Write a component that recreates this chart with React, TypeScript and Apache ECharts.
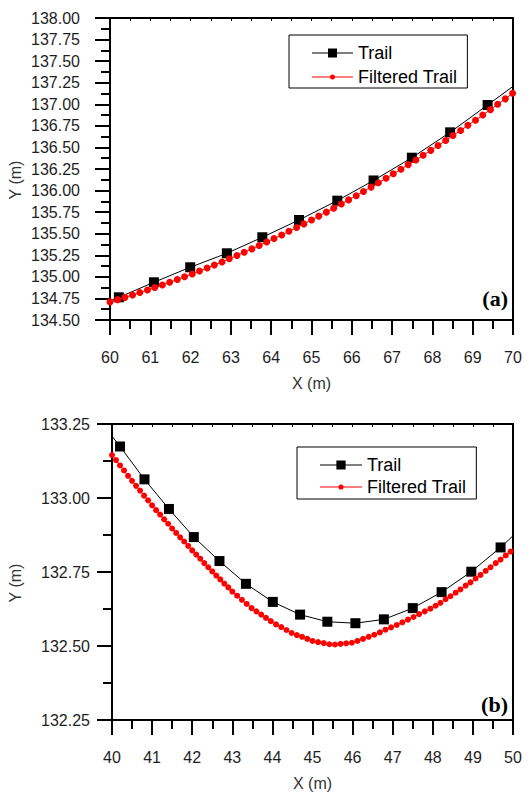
import React, { useEffect, useRef } from 'react';
import * as echarts from 'echarts';

// ---------- Data: panel (a) ----------
const trailAX = [59.33, 60.22, 61.09, 61.99, 62.9, 63.78, 64.69, 65.64, 66.54, 67.49, 68.44, 69.37, 70.3];
const trailAY = [134.59, 134.763, 134.937, 135.111, 135.273, 135.459, 135.659, 135.883, 136.117, 136.381, 136.675, 136.992, 137.31];

const filtAX = [
  60.0, 60.19, 60.37, 60.56, 60.74, 60.93, 61.11, 61.3, 61.48, 61.67, 61.85, 62.04, 62.22, 62.41, 62.59,
  62.78, 62.96, 63.15, 63.33, 63.52, 63.7, 63.89, 64.07, 64.26, 64.44, 64.63, 64.81, 65.0, 65.18, 65.37,
  65.55, 65.74, 65.92, 66.11, 66.29, 66.48, 66.66, 66.85, 67.03, 67.22, 67.4, 67.59, 67.77, 67.96, 68.14,
  68.33, 68.51, 68.7, 68.88, 69.07, 69.25, 69.44, 69.62, 69.81, 69.99,
];
const filtAY = [
  134.71, 134.736, 134.762, 134.79, 134.818, 134.847, 134.876, 134.906, 134.937, 134.969, 135.001, 135.034,
  135.068, 135.102, 135.137, 135.173, 135.21, 135.247, 135.285, 135.324, 135.363, 135.403, 135.444, 135.486,
  135.528, 135.571, 135.614, 135.659, 135.704, 135.75, 135.796, 135.844, 135.892, 135.94, 135.99, 136.04,
  136.09, 136.142, 136.194, 136.247, 136.301, 136.355, 136.41, 136.466, 136.522, 136.58, 136.638, 136.696,
  136.756, 136.816, 136.876, 136.938, 137.0, 137.063, 137.127,
];

// ---------- Data: panel (b) ----------
const trailBX = [39.59, 40.2, 40.81, 41.42, 42.04, 42.68, 43.34, 44.01, 44.69, 45.37, 46.07, 46.78, 47.5, 48.22, 48.96, 49.69, 50.42];
const trailBY = [133.28, 133.174, 133.063, 132.963, 132.868, 132.787, 132.71, 132.649, 132.606, 132.582, 132.577, 132.59, 132.628, 132.682, 132.751, 132.833, 132.925];

const filtBX = [
  40.0, 40.1, 40.2, 40.3, 40.4, 40.5, 40.6, 40.7, 40.8, 40.9, 41.0, 41.1, 41.2, 41.3, 41.4, 41.5, 41.6, 41.7,
  41.8, 41.9, 42.0, 42.1, 42.2, 42.3, 42.4, 42.5, 42.6, 42.7, 42.8, 42.9, 43.0, 43.12, 43.24, 43.36, 43.48,
  43.6, 43.72, 43.84, 43.96, 44.09, 44.22, 44.35, 44.48, 44.61, 44.74, 44.87, 45.0, 45.14, 45.28, 45.42,
  45.56, 45.7, 45.84, 45.98, 46.12, 46.26, 46.4, 46.54, 46.68, 46.82, 46.96, 47.1, 47.24, 47.38, 47.52,
  47.66, 47.8, 47.94, 48.07, 48.19, 48.32, 48.44, 48.57, 48.69, 48.82, 48.94, 49.07, 49.19, 49.32, 49.44,
  49.57, 49.69, 49.82, 49.94, 50.07,
];
const filtBY = [
  133.145, 133.128, 133.11, 133.093, 133.075, 133.058, 133.041, 133.025, 133.008, 132.992, 132.975, 132.959,
  132.944, 132.928, 132.913, 132.897, 132.882, 132.867, 132.853, 132.838, 132.823, 132.809, 132.795, 132.78,
  132.766, 132.752, 132.738, 132.725, 132.711, 132.698, 132.684, 132.67, 132.656, 132.642, 132.628, 132.617,
  132.606, 132.595, 132.584, 132.573, 132.564, 132.554, 132.544, 132.537, 132.531, 132.524, 132.517, 132.513,
  132.51, 132.506, 132.505, 132.507, 132.509, 132.511, 132.517, 132.524, 132.531, 132.538, 132.546, 132.555,
  132.563, 132.571, 132.58, 132.589, 132.598, 132.608, 132.617, 132.626, 132.636, 132.646, 132.658, 132.668,
  132.68, 132.691, 132.704, 132.715, 132.728, 132.74, 132.754, 132.766, 132.78, 132.792, 132.806, 132.819,
  132.834,
];

// Axis ranges / tick labels
const xRangeA = [60, 70];
const yRangeA = [134.5, 138.0];
const xRangeB = [40, 50];
const yRangeB = [132.25, 133.25];
const seriesNames = ['Trail', 'Filtered Trail'];
const panelLabels = ['(a)', '(b)'];
const axisNames = ['X (m)', 'Y (m)'];

const FONT = '"Liberation Sans", Arial, Helvetica, sans-serif';
const SERIF = '"Liberation Serif", "Times New Roman", serif';

const trailIcon = 'path://M0,6.5L41,6.5L41,7.5L0,7.5Z M16,2.5L25,2.5L25,11.5L16,11.5Z';
const filtIcon = 'path://M0,6.5L41,6.5L41,7.5L0,7.5Z M18,7A2.5,2.5 0 1 1 23,7A2.5,2.5 0 1 1 18,7Z';

const pairs = (xs: number[], ys: number[]) => xs.map((x, i) => [x, ys[i]]);

const axisLineStyle = { color: '#000', width: 2 };

function mainX(gridIndex: number, range: number[], labelMargin: number) {
  return {
    type: 'value',
    gridIndex,
    min: range[0],
    max: range[1],
    interval: 1,
    position: 'bottom',
    axisLine: { show: true, onZero: false, lineStyle: axisLineStyle },
    axisTick: { show: true, inside: false, length: 15, lineStyle: { color: '#000', width: 2 } },
    minorTick: { show: true, splitNumber: 2, length: 9, lineStyle: { color: '#000', width: 2 } },
    splitLine: { show: false },
    minorSplitLine: { show: false },
    axisLabel: {
      show: true,
      margin: labelMargin,
      fontSize: 16,
      color: '#1e1e1e',
      fontFamily: FONT,
      formatter: (v: number) => String(Math.round(v)),
    },
    name: axisNames[0],
    nameLocation: 'middle',
    nameGap: 55,
    nameTextStyle: { fontSize: 16, color: '#333', fontFamily: FONT },
  };
}

function topX(gridIndex: number, range: number[]) {
  return {
    type: 'value',
    gridIndex,
    min: range[0],
    max: range[1],
    interval: 0.5,
    position: 'top',
    axisLine: { show: true, onZero: false, lineStyle: axisLineStyle },
    axisTick: { show: true, inside: true, length: 3, lineStyle: { color: '#000', width: 1 } },
    axisLabel: { show: false },
    splitLine: { show: false },
  };
}

function mainY(gridIndex: number, range: number[], labelMargin: number) {
  return {
    type: 'value',
    gridIndex,
    min: range[0],
    max: range[1],
    interval: 0.25,
    position: 'left',
    axisLine: { show: true, onZero: false, lineStyle: axisLineStyle },
    axisTick: { show: true, inside: false, length: 15, lineStyle: { color: '#000', width: 2 } },
    minorTick: { show: true, splitNumber: 2, length: 9, lineStyle: { color: '#000', width: 2 } },
    splitLine: { show: false },
    minorSplitLine: { show: false },
    axisLabel: {
      show: true,
      margin: labelMargin,
      fontSize: 16,
      color: '#1e1e1e',
      fontFamily: FONT,
      formatter: (v: number) => v.toFixed(2),
    },
  };
}

function rightY(gridIndex: number, range: number[]) {
  return {
    type: 'value',
    gridIndex,
    min: range[0],
    max: range[1],
    position: 'right',
    axisLine: { show: true, onZero: false, lineStyle: axisLineStyle },
    axisTick: { show: false },
    axisLabel: { show: false },
    splitLine: { show: false },
  };
}

function legend(left: number, top: number, padding: number[], gap: number, width: number) {
  return {
    show: true,
    orient: 'vertical',
    left,
    top,
    padding,
    itemGap: gap,
    itemWidth: width,
    itemHeight: 14,
    borderColor: '#000',
    borderWidth: 1,
    backgroundColor: '#fff',
    itemStyle: { borderWidth: 0 },
    textStyle: { fontSize: 18, color: '#000', fontFamily: FONT, lineHeight: 18 },
    data: [
      { name: seriesNames[0], icon: trailIcon },
      { name: seriesNames[1], icon: filtIcon },
    ],
    selectedMode: false,
  };
}

function trailSeries(idx: number, data: number[][]) {
  return {
    type: 'line',
    name: seriesNames[0],
    xAxisIndex: idx,
    yAxisIndex: idx,
    data,
    symbol: 'rect',
    symbolSize: 10,
    showSymbol: true,
    showAllSymbol: true,
    clip: true,
    itemStyle: { color: '#000' },
    lineStyle: { color: '#000', width: 1 },
    emphasis: { disabled: true },
    z: 2,
  };
}

function filtSeries(idx: number, data: number[][], size: number) {
  return {
    type: 'line',
    name: seriesNames[1],
    xAxisIndex: idx,
    yAxisIndex: idx,
    data,
    symbol: 'circle',
    symbolSize: size,
    showSymbol: true,
    showAllSymbol: true,
    clip: true,
    itemStyle: { color: '#ff0000' },
    lineStyle: { color: '#ff0000', width: 1 },
    emphasis: { disabled: true },
    z: 3,
  };
}

export default function App() {
  const ref = useRef<HTMLDivElement>(null);

  useEffect(() => {
    if (!ref.current) return;
    const chart = echarts.init(ref.current, undefined, { renderer: 'svg' });
    const option = {
      animation: false,
      backgroundColor: '#fff',
      grid: [
        { left: 110, top: 18, width: 403, height: 302, containLabel: false },
        { left: 112, top: 424, width: 401, height: 300, containLabel: false },
      ],
      xAxis: [mainX(0, xRangeA, 29), mainX(1, xRangeB, 29), topX(0, xRangeA), topX(1, xRangeB)],
      yAxis: [mainY(0, yRangeA, 30), mainY(1, yRangeB, 22), rightY(0, yRangeA), rightY(1, yRangeB)],
      legend: [
        legend(289, 35, [9, 10, 2, 23], 6, 41),
        legend(297, 447, [9, 10, 3, 23], 4, 42),
      ],
      series: [
        trailSeries(0, pairs(trailAX, trailAY)),
        filtSeries(0, pairs(filtAX, filtAY), 7),
        trailSeries(1, pairs(trailBX, trailBY)),
        filtSeries(1, pairs(filtBX, filtBY), 6),
      ],
      graphic: [
        {
          type: 'text',
          x: 15,
          y: 180,
          rotation: Math.PI / 2,
          style: { text: axisNames[1], fontSize: 16, fill: '#333', fontFamily: FONT, align: 'center', verticalAlign: 'middle' },
        },
        {
          type: 'text',
          x: 15,
          y: 583,
          rotation: Math.PI / 2,
          style: { text: axisNames[1], fontSize: 16, fill: '#333', fontFamily: FONT, align: 'center', verticalAlign: 'middle' },
        },
        {
          type: 'text',
          x: 508,
          y: 298,
          style: { text: panelLabels[0], fontSize: 22, fontWeight: 'bold', fill: '#000', fontFamily: SERIF, align: 'right', verticalAlign: 'middle' },
        },
        {
          type: 'text',
          x: 508,
          y: 704,
          style: { text: panelLabels[1], fontSize: 22, fontWeight: 'bold', fill: '#000', fontFamily: SERIF, align: 'right', verticalAlign: 'middle' },
        },
      ],
    };
    chart.setOption(option as any);
    return () => chart.dispose();
  }, []);

  return (
    <div
      ref={ref}
      style={{ position: 'absolute', left: 0, top: 0, width: 532, height: 792, background: '#fff' }}
    />
  );
}
